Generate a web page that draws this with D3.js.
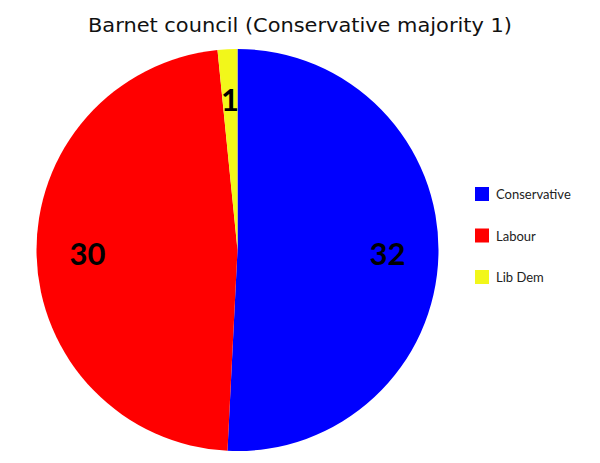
<!DOCTYPE html>
<html>
<head>
<meta charset="utf-8">
<script src="https://cdn.jsdelivr.net/npm/d3@7"></script>
<style>
  body { margin: 0; background: #fff; }
  text { font-family: "Lato", "DejaVu Sans", sans-serif; }
</style>
</head>
<body>
<svg id="chart" width="600" height="463"></svg>
<script>
// seats per party
const parties = ['Conservative', 'Labour', 'Lib Dem'];
const seats = [32, 30, 1];
const partyColours = ['#0000ff', '#ff0000', '#f2f71a'];
const title = 'Barnet council (Conservative majority 1)';

const svg = d3.select('#chart');
const cx = 237.5, cy = 250, radius = 201;

const colour = d3.scaleOrdinal().domain(parties).range(partyColours);

svg.append('text')
  .attr('x', 300).attr('y', 32)
  .attr('text-anchor', 'middle')
  .style('font-family', '"DejaVu Sans", sans-serif')
  .style('font-weight', 'normal')
  .attr('font-size', 20)
  .attr('textLength', 424)
  .attr('lengthAdjust', 'spacingAndGlyphs')
  .attr('fill', '#111')
  .text(title);

const pie = d3.pie().sort(null).value(d => d.seats);
const slices = pie(parties.map((p, i) => ({party: p, seats: seats[i]})));

const arc = d3.arc().innerRadius(0).outerRadius(radius);
const labelArc = d3.arc().innerRadius(150).outerRadius(150);

const g = svg.append('g').attr('transform', `translate(${cx},${cy})`);

g.selectAll('path')
  .data(slices)
  .join('path')
  .attr('d', arc)
  .attr('fill', d => colour(d.data.party));

g.selectAll('text.lbl')
  .data(slices)
  .join('text')
  .attr('class', 'lbl')
  .attr('transform', d => {
    const [x, y] = labelArc.centroid(d);
    return `translate(${x},${y})`;
  })
  .attr('text-anchor', 'middle')
  .attr('dy', '0.36em')
  .attr('font-size', 31)
  .attr('font-weight', 'bold')
  .attr('fill', '#000')
  .text(d => d.data.seats);

// legend
const legend = svg.append('g').attr('transform', 'translate(475,187)');
const rows = legend.selectAll('g')
  .data(parties)
  .join('g')
  .attr('transform', (d, i) => `translate(0,${i * 41.5})`);

rows.append('rect')
  .attr('width', 14).attr('height', 14)
  .attr('fill', d => colour(d));

rows.append('text')
  .attr('x', 21).attr('y', 12)
  .attr('font-size', 13)
  .attr('fill', '#222')
  .text(d => d);
</script>
</body>
</html>
